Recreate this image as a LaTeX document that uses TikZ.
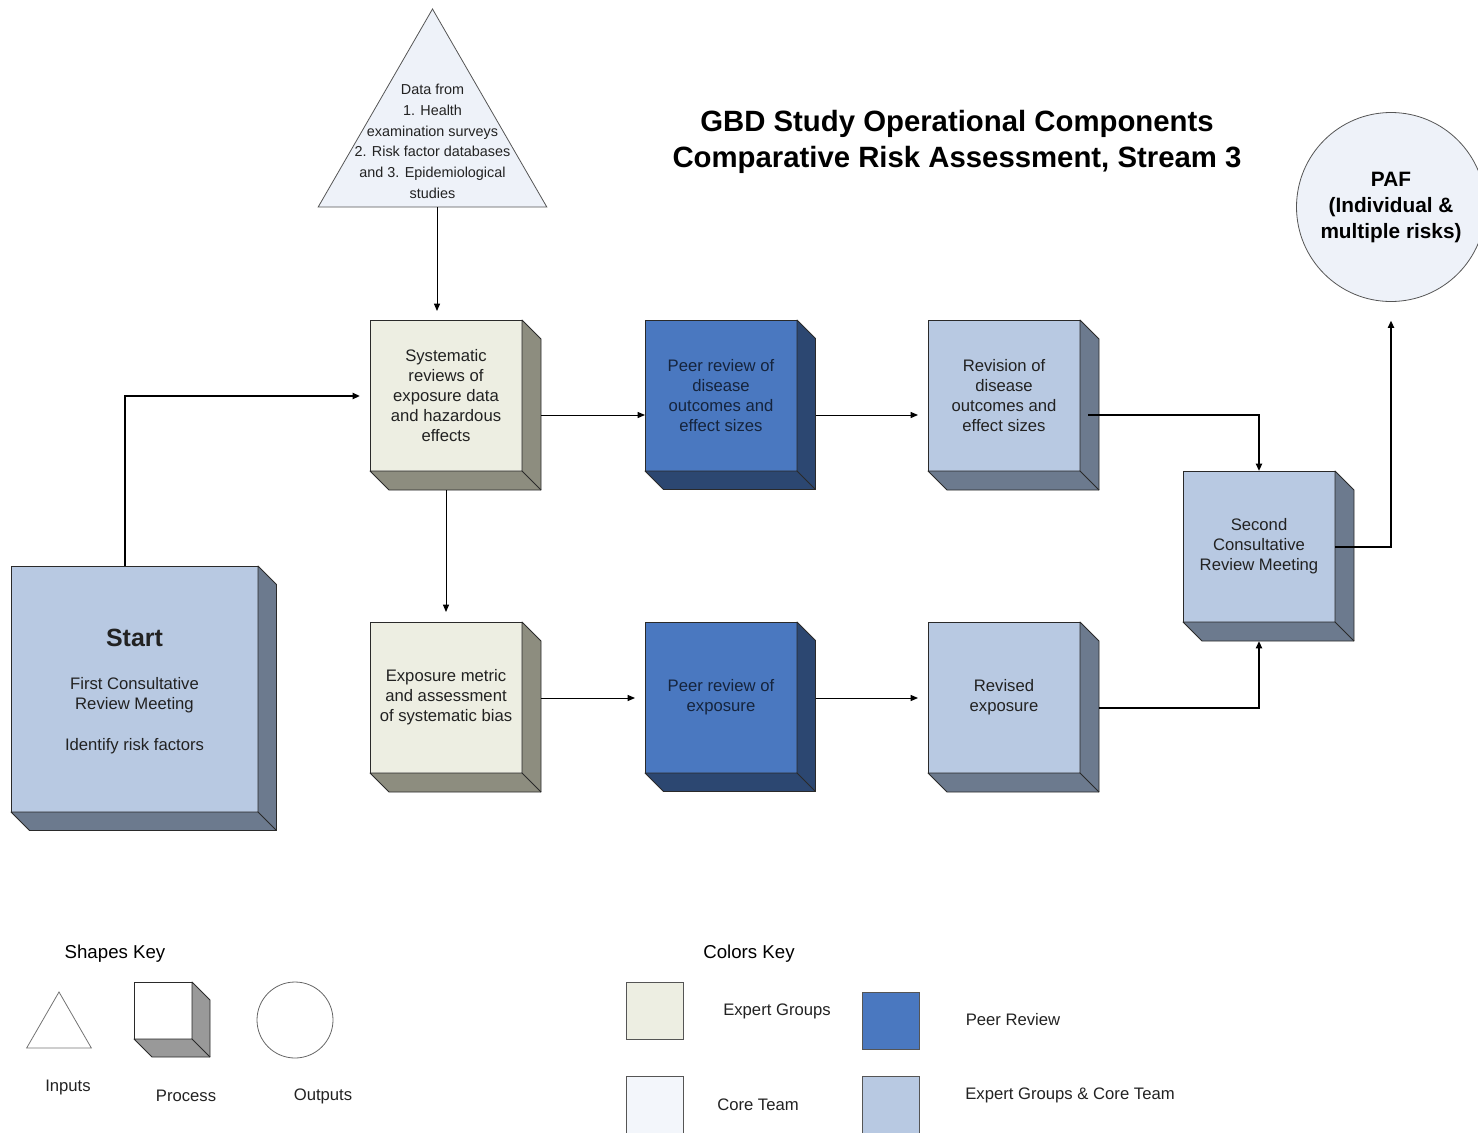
\documentclass[tikz,border=0pt]{standalone}
\usepackage{fontspec}
\setmainfont{Liberation Sans}
\usetikzlibrary{calc,shapes.geometric,arrows.meta}

\definecolor{edge}{HTML}{2A2A2A}
\definecolor{txt}{HTML}{222222}
\definecolor{peertxt}{HTML}{15243D}
\definecolor{expert}{HTML}{EDEEE2}
\definecolor{expertside}{HTML}{8D8D7F}
\definecolor{peer}{HTML}{4A78C0}
\definecolor{peerside}{HTML}{2C4771}
\definecolor{both}{HTML}{B8C9E2}
\definecolor{bothside}{HTML}{6C7A8E}
\definecolor{core}{HTML}{F3F6FB}
\definecolor{inout}{HTML}{EEF2F9}

% side and bottom faces of a 3D process box
\newcommand\boxsides[3]{%
  \filldraw[fill=#2,draw=edge,line width=0.6pt,line join=round]
    (#1.north east) -- ++(#3,#3) -- ($(#1.south east)+(#3,#3)$)
    -- ($(#1.south west)+(#3,#3)$) -- (#1.south west) -- (#1.south east) -- cycle;
  \draw[edge,line width=0.6pt] (#1.south east) -- ++(#3,#3);
}

\begin{document}
\begin{tikzpicture}[x=0.75pt,y=-0.75pt,
  boxtext/.style={font=\fontsize{12.5}{15}\selectfont,text=txt,align=center},
  cubefront/.style={rectangle,draw=edge,line width=0.7pt,inner sep=0pt,outer sep=0pt,
    minimum width=114pt,minimum height=113.25pt,boxtext},
  expertbox/.style={cubefront,fill=expert},
  peerbox/.style={cubefront,fill=peer,text=peertxt},
  bothbox/.style={cubefront,fill=both},
  arr/.style={-{Triangle[length=5.5pt,width=4.5pt]},line width=0.75pt,draw=black},
  thickarr/.style={arr,line width=1.5pt},
  keytitle/.style={font=\fontsize{14}{17}\selectfont,text=black},
  keylabel/.style={font=\fontsize{12.5}{15}\selectfont,text=txt},
  swatch/.style={rectangle,draw=edge!80,line width=0.7pt,minimum width=42.75pt,minimum height=42.75pt,inner sep=0pt,outer sep=0pt}
]
\useasboundingbox (0,0) rectangle (1478,1132);

% title
\node[font=\fontsize{22}{27}\selectfont\bfseries,align=center] (title) at (957,142)
  {GBD Study Operational Components\\Comparative Risk Assessment, Stream 3};

% input triangle
\node[regular polygon,regular polygon sides=3,minimum size=198pt,inner sep=0pt,outer sep=0pt,
  draw=edge!80,line width=0.6pt,fill=inout] (tri) at (432.5,141) {};
\node[font=\fontsize{10.8}{15.5}\selectfont,text=txt,align=center] (tritext) at (432.5,141.5)
  {Data from\\1. Health\\examination surveys\\2. Risk factor databases\\and 3. Epidemiological\\studies};

% output circle
\node[circle,minimum size=141.75pt,inner sep=0pt,outer sep=0pt,draw=edge!80,line width=0.6pt,
  fill=inout,font=\fontsize{15.6}{19.5}\selectfont\bfseries,align=center] (paf) at (1391,207)
  {PAF\\(Individual \&\\multiple risks)};

% start box
\node[bothbox,minimum width=185.25pt,minimum height=184.5pt] (start) at (134.5,689)
  {\rule{0pt}{17pt}{\fontsize{18.7}{22}\selectfont\bfseries Start}\\[17pt]First Consultative\\Review Meeting\\[15.5pt]Identify risk factors};
\boxsides{start}{bothside}{18.5}

% process boxes
\node[expertbox] (sys) at (446,395.5) {Systematic\\reviews of\\exposure data\\and hazardous\\effects};
\boxsides{sys}{expertside}{19}
\node[peerbox] (p1) at (721,395.5) {Peer review of\\disease\\outcomes and\\effect sizes};
\boxsides{p1}{peerside}{18.5}
\node[bothbox] (rev) at (1004,395.5) {Revision of\\disease\\outcomes and\\effect sizes};
\boxsides{rev}{bothside}{19}
\node[bothbox] (second) at (1259,546.5) {Second\\Consultative\\Review Meeting};
\boxsides{second}{bothside}{19}
\node[expertbox] (exp) at (446,697.5) {Exposure metric\\and assessment\\of systematic bias};
\boxsides{exp}{expertside}{19}
\node[peerbox] (pexp) at (721,697.5) {Peer review of\\exposure};
\boxsides{pexp}{peerside}{18.5}
\node[bothbox] (rexp) at (1004,697.5) {Revised\\exposure};
\boxsides{rexp}{bothside}{19}

% connectors
\draw[arr] ($(tri.south)+(4.5,0)$) -- ($(sys.north)+(-9,-9)$);
\draw[thickarr] ($(start.north)+(-9.5,0)$) |- ($(sys.west)+(-10,0.5)$);
\draw[arr] ($(sys.east)+(19,19.5)$) -- ($(p1.west)+(0,19.5)$);
\draw[arr] ($(p1.east)+(18.5,19.5)$) -- ($(rev.west)+(-10,19.5)$);
\draw[thickarr] ($(rev.east)+(8,19)$) -| (second.north);
\draw[arr] ($(sys.south)+(0,19)$) -- ($(exp.north)+(0,-10)$);
\draw[arr] ($(exp.east)+(19,0.5)$) -- ($(pexp.west)+(-10,0.5)$);
\draw[arr] ($(pexp.east)+(18.5,0.5)$) -- ($(rexp.west)+(-10,0.5)$);
\draw[thickarr] ($(rexp.east)+(19,10.5)$) -| ($(second.south)+(0,19)$);
\draw[thickarr] ($(second.east)+(0,0.5)$) -| ($(paf.south)+(0,19)$);

% shapes key
\node[keytitle] (shapeskey) at (115,954) {Shapes Key};
\node[regular polygon,regular polygon sides=3,minimum size=56pt,inner sep=0pt,outer sep=0pt,
  draw=black!55,line width=0.6pt] (ktri) at (59,1029.3) {};
\node[rectangle,draw=edge,line width=0.7pt,fill=white,minimum width=43.5pt,minimum height=42.75pt,
  inner sep=0pt,outer sep=0pt] (kcube) at (163,1010.5) {};
\boxsides{kcube}{black!40}{18}
\node[circle,draw=black!60,line width=0.6pt,minimum size=57pt,inner sep=0pt] (kcirc) at (295,1020) {};
\node[keylabel] (kin) at (68,1087) {Inputs};
\node[keylabel] (kproc) at (186,1096) {Process};
\node[keylabel] (kout) at (323,1096) {Outputs};

% colours key
\node[keytitle] (colorskey) at (749,954) {Colors Key};
\node[swatch,fill=expert] (sexpert) at (654.5,1010.5) {};
\node[swatch,fill=peer] (speer) at (890.5,1020.5) {};
\node[swatch,fill=core] (score) at (654.5,1104.5) {};
\node[swatch,fill=both] (sboth) at (890.5,1104.5) {};
\node[keylabel] (lexpert) at (777,1011) {Expert Groups};
\node[keylabel] (lpeer) at (1013,1020) {Peer Review};
\node[keylabel] (lcore) at (758,1105) {Core Team};
\node[keylabel] (lboth) at (1070,1095) {Expert Groups \& Core Team};
\end{tikzpicture}
\end{document}
